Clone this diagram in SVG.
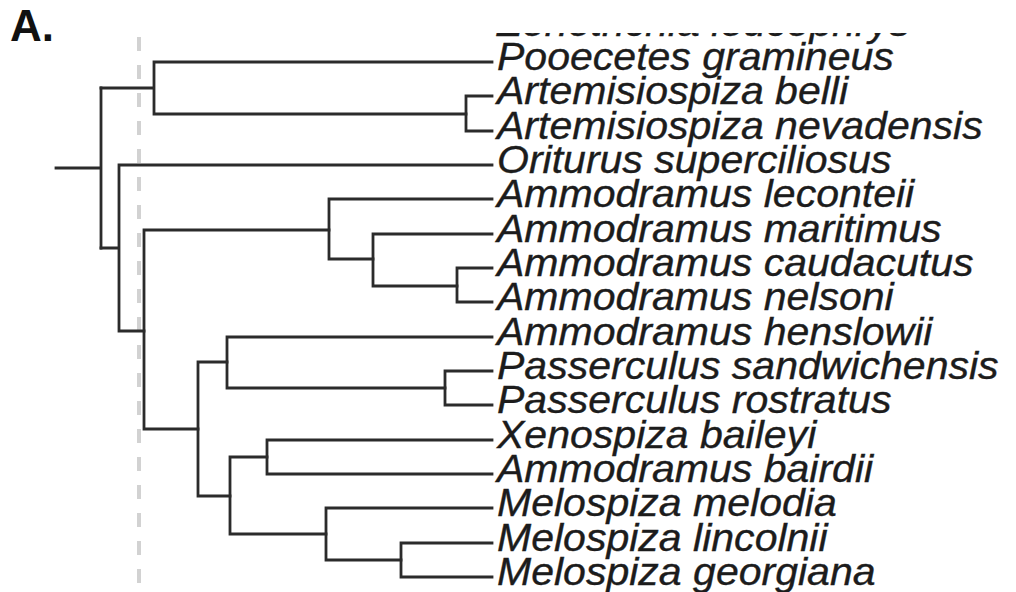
<svg xmlns="http://www.w3.org/2000/svg" width="1016" height="592" viewBox="0 0 1016 592">
<style>
.br{fill:none;stroke:#2b2b2b;stroke-width:2.8;stroke-linecap:square}
.lab{font-family:"Liberation Sans",Arial,sans-serif;font-style:italic;font-size:38px;fill:#1c1c1c;stroke:#1c1c1c;stroke-width:0.35}
.ttl{font-family:"Liberation Sans",Arial,sans-serif;font-weight:bold;font-size:44px;fill:#111}
.ref{stroke:#d2d2d2;stroke-width:4;stroke-dasharray:14 14;fill:none}
</style>
<defs>
<clipPath id="topcut"><rect x="480" y="33" width="536" height="30"/></clipPath>
</defs>
<rect width="1016" height="592" fill="#fff"/>
<text class="ttl" x="10" y="41">A.</text>
<line class="ref" x1="139" y1="37" x2="139" y2="588"/>
<g id="connectors">
<path class="br" d="M56,168H101M101,88V248"/>
<path class="br" d="M101,88H154M154,62V114M154,62H492M154,114H466"/>
<path class="br" d="M466,96V131M466,96H492M466,131H492"/>
<path class="br" d="M101,248H119M119,165V331M119,165H492M119,331H144"/>
<path class="br" d="M144,230V429M144,230H329M144,429H198"/>
<path class="br" d="M329,199V259M329,199H492M329,259H373"/>
<path class="br" d="M373,234V286M373,234H492M373,286H457"/>
<path class="br" d="M457,268V302M457,268H492M457,302H492"/>
<path class="br" d="M198,362V496M198,362H227M198,496H230"/>
<path class="br" d="M227,337V388M227,337H492M227,388H445"/>
<path class="br" d="M445,371V405M445,371H492M445,405H492"/>
<path class="br" d="M230,457V534M230,457H267M230,534H326"/>
<path class="br" d="M267,440V474M267,440H492M267,474H492"/>
<path class="br" d="M326,508V560M326,508H492M326,560H401"/>
<path class="br" d="M401,543V577M401,543H492M401,577H492"/>
</g>
<g id="leaf-zonotrichia" clip-path="url(#topcut)"><text class="lab" transform="translate(497,36) scale(1.08,1)">Zonotrichia leucophrys</text></g>
<g id="leaf-pooecetes"><text class="lab" transform="translate(497,70) scale(1.08,1)">Pooecetes gramineus</text></g>
<g id="leaf-belli"><text class="lab" transform="translate(497,104) scale(1.08,1)">Artemisiospiza belli</text></g>
<g id="leaf-nevadensis"><text class="lab" transform="translate(497,139) scale(1.08,1)">Artemisiospiza nevadensis</text></g>
<g id="leaf-oriturus"><text class="lab" transform="translate(497,173) scale(1.08,1)">Oriturus superciliosus</text></g>
<g id="leaf-leconteii"><text class="lab" transform="translate(497,207) scale(1.08,1)">Ammodramus leconteii</text></g>
<g id="leaf-maritimus"><text class="lab" transform="translate(497,242) scale(1.08,1)">Ammodramus maritimus</text></g>
<g id="leaf-caudacutus"><text class="lab" transform="translate(497,276) scale(1.08,1)">Ammodramus caudacutus</text></g>
<g id="leaf-nelsoni"><text class="lab" transform="translate(497,310) scale(1.08,1)">Ammodramus nelsoni</text></g>
<g id="leaf-henslowii"><text class="lab" transform="translate(497,345) scale(1.08,1)">Ammodramus henslowii</text></g>
<g id="leaf-sandwichensis"><text class="lab" transform="translate(497,379) scale(1.08,1)">Passerculus sandwichensis</text></g>
<g id="leaf-rostratus"><text class="lab" transform="translate(497,413) scale(1.08,1)">Passerculus rostratus</text></g>
<g id="leaf-xenospiza"><text class="lab" transform="translate(497,448) scale(1.08,1)">Xenospiza baileyi</text></g>
<g id="leaf-bairdii"><text class="lab" transform="translate(497,482) scale(1.08,1)">Ammodramus bairdii</text></g>
<g id="leaf-melodia"><text class="lab" transform="translate(497,516) scale(1.08,1)">Melospiza melodia</text></g>
<g id="leaf-lincolnii"><text class="lab" transform="translate(497,551) scale(1.08,1)">Melospiza lincolnii</text></g>
<g id="leaf-georgiana"><text class="lab" transform="translate(497,585) scale(1.08,1)">Melospiza georgiana</text></g>
</svg>
